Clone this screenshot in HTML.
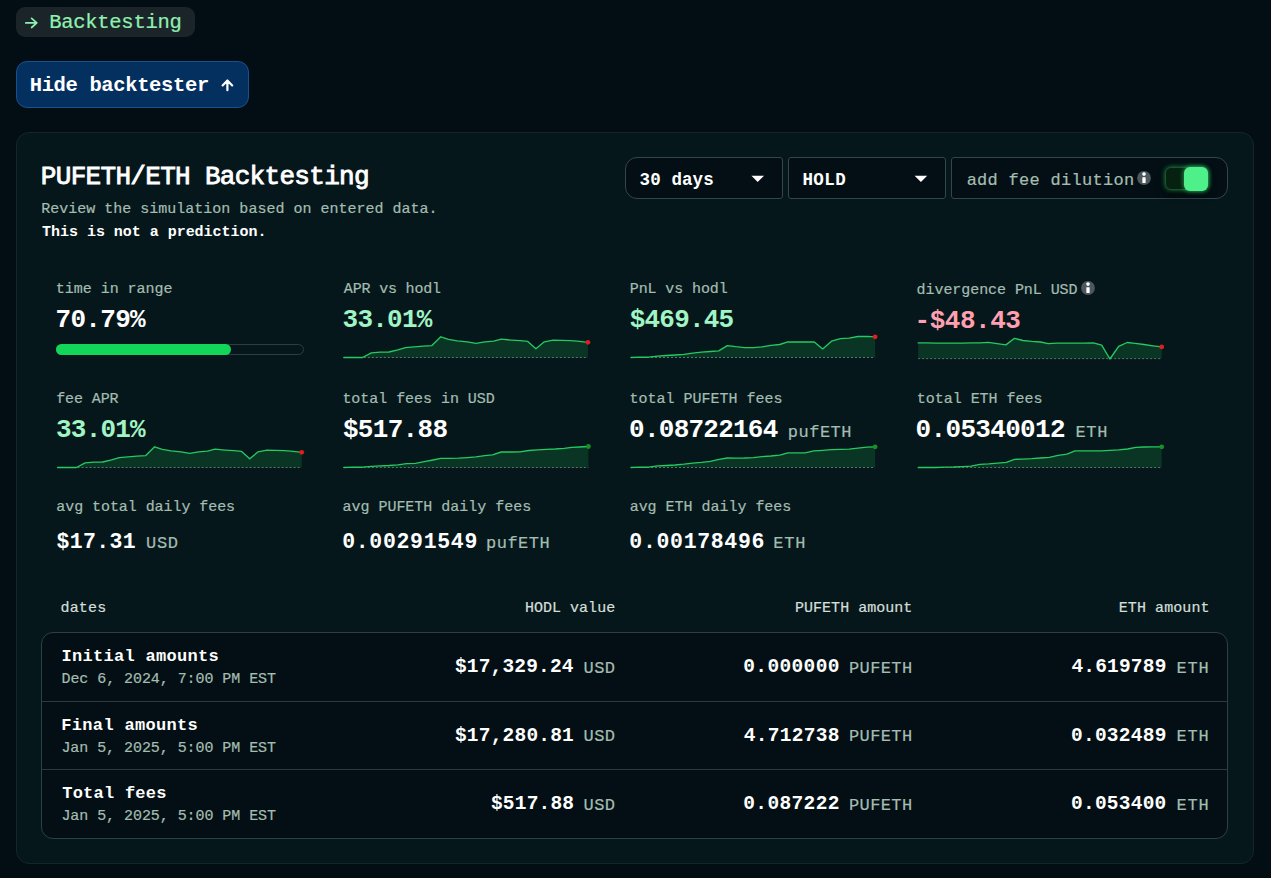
<!DOCTYPE html>
<html lang="en"><head><meta charset="utf-8"><title>Backtesting</title>
<style>
html,body{margin:0;padding:0;}
body{width:1271px;height:878px;overflow:hidden;background:#020e13;font-family:"Liberation Mono",monospace;position:relative;}
.t{position:absolute;white-space:pre;line-height:1;font-weight:400;-webkit-text-stroke:.2px currentColor;}
.abs{position:absolute;display:block;}
.t.semi{-webkit-text-stroke:.85px currentColor;}
.tag{position:absolute;left:16px;top:7px;width:179px;height:30px;border-radius:9px;background:#1b2529;}
.btn{position:absolute;left:16px;top:61px;width:231px;height:45px;border-radius:11px;background:#04305f;border:1px solid #1c4f90;}
.panel{position:absolute;left:16px;top:132px;width:1236px;height:730px;border-radius:13px;background:#06171c;border:1px solid #14262c;}
.dd{position:absolute;top:157px;height:40px;background:#030f14;border:1px solid #34454b;}
.dd1{left:625px;width:156px;border-radius:12px 3px 3px 12px;}
.dd2{left:788px;width:156px;border-radius:3px;}
.dd3{left:951px;width:275px;border-radius:3px 12px 12px 3px;}
.trk{position:absolute;left:1165px;top:167px;width:41px;height:21px;border-radius:6px;background:#06210f;border:1px solid #1d5133;box-shadow:0 0 5px rgba(40,220,100,.6),0 5px 8px rgba(0,0,0,.6);}
.thumb{position:absolute;left:1183.8px;top:166.7px;width:24.5px;height:24.2px;border-radius:6px;background:#4ef08a;box-shadow:0 0 5px rgba(74,240,130,.7);}
.pbar{position:absolute;left:56px;top:344.2px;width:245.5px;height:8.8px;border:1px solid #2c3d43;border-radius:6px;}
.pfill{position:absolute;left:-1px;top:-1px;height:10.8px;width:175.3px;border-radius:6px;background:#11d659;}
.tbl{position:absolute;left:41px;top:632px;width:1185px;height:205px;border:1px solid #2e3f45;border-radius:12px;background:#030f14;}
.hr{position:absolute;left:0;right:0;height:1px;background:#2a3a40;}
</style></head>
<body>
<div class="tag"></div>
<svg class="abs" style="left:24px;top:16px" width="16" height="14" viewBox="0 0 16 14"><path d="M1.8 6.9 H12.6 M7.6 2.3 L12.8 6.9 L7.6 11.5" fill="none" stroke="#8ff0b0" stroke-width="1.7" stroke-linecap="round" stroke-linejoin="round"/></svg>
<div class="t " style="left:49.28px;top:13.29px;font-size:20.5px;letter-spacing:-0.285px;color:#8ff0b0;">Backtesting</div>
<div class="btn"></div>
<div class="t " style="left:29.72px;top:75.89px;font-size:20.5px;letter-spacing:-0.362px;color:#ffffff;font-weight:700;-webkit-text-stroke:0;">Hide backtester</div>
<svg class="abs" style="left:220px;top:77px" width="16" height="16" viewBox="0 0 16 16"><path d="M7.4 13.2 V3.6 M2.6 8.4 L7.4 3.5 L12.2 8.4" fill="none" stroke="#fff" stroke-width="2.2" stroke-linecap="round" stroke-linejoin="round"/></svg>
<div class="panel"></div>
<div class="t semi" style="left:40.84px;top:164.08px;font-size:26px;letter-spacing:-0.689px;color:#ffffff;">PUFETH/ETH Backtesting</div>
<div class="t " style="left:41.31px;top:201.91px;font-size:15px;letter-spacing:0.002px;color:#a3bdb1;">Review the simulation based on entered data.</div>
<div class="t " style="left:42.05px;top:224.51px;font-size:15px;letter-spacing:-0.027px;color:#ffffff;font-weight:700;-webkit-text-stroke:0;">This is not a prediction.</div>
<div class="dd dd1"></div><div class="dd dd2"></div><div class="dd dd3"></div>
<div class="t " style="left:639.61px;top:171.89px;font-size:17.5px;letter-spacing:0.092px;color:#ffffff;font-weight:700;-webkit-text-stroke:0;">30 days</div>
<div class="t " style="left:802.42px;top:171.89px;font-size:17.5px;letter-spacing:0.419px;color:#ffffff;font-weight:700;-webkit-text-stroke:0;">HOLD</div>
<svg class="abs" style="left:751px;top:175px" width="14" height="8" viewBox="0 0 14 8"><path d="M0.4 0.8 H13 L6.7 7 Z" fill="#fff"/></svg>
<svg class="abs" style="left:914px;top:175px" width="14" height="8" viewBox="0 0 14 8"><path d="M0.6 0.8 H13.2 L6.9 7 Z" fill="#fff"/></svg>
<div class="t " style="left:966.64px;top:171.78px;font-size:17px;letter-spacing:0.282px;color:#a3bdb1;">add fee dilution</div>
<svg class="abs" style="left:1136.2px;top:169.6px" width="16" height="16" viewBox="0 0 16 16"><circle cx="8" cy="8" r="6.9" fill="#4d585e"/><circle cx="8" cy="4.1" r="1.8" fill="#fff"/><rect x="6.35" y="7.2" width="3.3" height="5.9" rx=".6" fill="#fff"/></svg>
<div class="trk"></div><div class="thumb"></div>
<div class="t " style="left:55.81px;top:281.61px;font-size:15px;letter-spacing:-0.028px;color:#a3bdb1;">time in range</div>
<div class="t " style="left:343.80px;top:281.61px;font-size:15px;letter-spacing:-0.169px;color:#a3bdb1;">APR vs hodl</div>
<div class="t " style="left:629.81px;top:281.61px;font-size:15px;letter-spacing:-0.110px;color:#a3bdb1;">PnL vs hodl</div>
<div class="t " style="left:916.59px;top:282.71px;font-size:15px;letter-spacing:-0.062px;color:#a3bdb1;">divergence PnL USD</div>
<svg class="abs" style="left:1080.2px;top:279.5px" width="16" height="16" viewBox="0 0 16 16"><circle cx="8" cy="8" r="6.9" fill="#4d585e"/><circle cx="8" cy="4.1" r="1.8" fill="#fff"/><rect x="6.35" y="7.2" width="3.3" height="5.9" rx=".6" fill="#fff"/></svg>
<div class="t " style="left:55.54px;top:307.38px;font-size:26px;letter-spacing:-0.693px;color:#ffffff;font-weight:700;-webkit-text-stroke:0;">70.79%</div>
<div class="t " style="left:342.62px;top:307.38px;font-size:26px;letter-spacing:-0.769px;color:#a1f4c3;font-weight:700;-webkit-text-stroke:0;">33.01%</div>
<div class="t " style="left:629.72px;top:307.38px;font-size:26px;letter-spacing:-0.799px;color:#a1f4c3;font-weight:700;-webkit-text-stroke:0;">$469.45</div>
<div class="t " style="left:914.59px;top:308.48px;font-size:26px;letter-spacing:-0.481px;color:#fea0b0;font-weight:700;-webkit-text-stroke:0;">-$48.43</div>
<div class="pbar"><div class="pfill"></div></div>
<div class="t " style="left:56.19px;top:391.61px;font-size:15px;letter-spacing:-0.103px;color:#a3bdb1;">fee APR</div>
<div class="t " style="left:342.41px;top:391.61px;font-size:15px;letter-spacing:-0.042px;color:#a3bdb1;">total fees in USD</div>
<div class="t " style="left:629.61px;top:391.61px;font-size:15px;letter-spacing:-0.006px;color:#a3bdb1;">total PUFETH fees</div>
<div class="t " style="left:916.81px;top:391.61px;font-size:15px;letter-spacing:-0.030px;color:#a3bdb1;">total ETH fees</div>
<div class="t " style="left:56.02px;top:417.38px;font-size:26px;letter-spacing:-0.789px;color:#a1f4c3;font-weight:700;-webkit-text-stroke:0;">33.01%</div>
<div class="t " style="left:342.92px;top:417.38px;font-size:26px;letter-spacing:-0.676px;color:#ffffff;font-weight:700;-webkit-text-stroke:0;">$517.88</div>
<div class="t " style="left:629.11px;top:417.38px;font-size:26px;letter-spacing:-0.763px;color:#ffffff;font-weight:700;-webkit-text-stroke:0;">0.08722164</div>
<div class="t " style="left:787.71px;top:423.78px;font-size:17px;letter-spacing:0.526px;color:#a3bdb1;">pufETH</div>
<div class="t " style="left:915.61px;top:417.38px;font-size:26px;letter-spacing:-0.680px;color:#ffffff;font-weight:700;-webkit-text-stroke:0;">0.05340012</div>
<div class="t " style="left:1075.46px;top:423.78px;font-size:17px;letter-spacing:0.646px;color:#a3bdb1;">ETH</div>
<div class="t " style="left:56.26px;top:499.51px;font-size:15px;letter-spacing:-0.061px;color:#a3bdb1;">avg total daily fees</div>
<div class="t " style="left:342.46px;top:499.51px;font-size:15px;letter-spacing:-0.013px;color:#a3bdb1;">avg PUFETH daily fees</div>
<div class="t " style="left:629.66px;top:499.51px;font-size:15px;letter-spacing:-0.021px;color:#a3bdb1;">avg ETH daily fees</div>
<div class="t " style="left:56.48px;top:531.93px;font-size:21.5px;letter-spacing:0.345px;color:#ffffff;font-weight:700;-webkit-text-stroke:0;">$17.31</div>
<div class="t " style="left:146.12px;top:535.38px;font-size:17px;letter-spacing:0.569px;color:#a3bdb1;">USD</div>
<div class="t " style="left:342.17px;top:531.93px;font-size:21.5px;letter-spacing:0.678px;color:#ffffff;font-weight:700;-webkit-text-stroke:0;">0.00291549</div>
<div class="t " style="left:486.01px;top:535.38px;font-size:17px;letter-spacing:0.486px;color:#a3bdb1;">pufETH</div>
<div class="t " style="left:629.37px;top:531.93px;font-size:21.5px;letter-spacing:0.667px;color:#ffffff;font-weight:700;-webkit-text-stroke:0;">0.00178496</div>
<div class="t " style="left:773.36px;top:535.38px;font-size:17px;letter-spacing:0.696px;color:#a3bdb1;">ETH</div>
<svg class="abs" style="left:0;top:0" width="1271" height="878" viewBox="0 0 1271 878"><polygon points="343.8,357.5 343.8,357.5 362.5,357.5 371.4,352.8 380.2,352.2 389.0,352.0 397.8,349.8 405.5,347.6 414.3,346.9 423.1,346.2 431.9,345.6 440.8,336.8 448.5,339.4 457.3,340.9 467.2,341.8 476.0,343.4 484.8,341.8 493.6,341.2 501.3,339.2 511.3,340.1 520.1,340.7 527.8,341.4 535.9,348.7 544.3,341.8 553.1,340.1 561.9,340.3 570.7,340.7 579.5,341.4 587.9,342.3 587.9,357.5" fill="#0a3525"/><line x1="343.8" y1="357.5" x2="587.9" y2="357.5" stroke="#56786a" stroke-width="1" stroke-dasharray="2 2"/><polyline points="343.8,357.5 362.5,357.5 371.4,352.8 380.2,352.2 389.0,352.0 397.8,349.8 405.5,347.6 414.3,346.9 423.1,346.2 431.9,345.6 440.8,336.8 448.5,339.4 457.3,340.9 467.2,341.8 476.0,343.4 484.8,341.8 493.6,341.2 501.3,339.2 511.3,340.1 520.1,340.7 527.8,341.4 535.9,348.7 544.3,341.8 553.1,340.1 561.9,340.3 570.7,340.7 579.5,341.4 587.9,342.3" fill="none" stroke="#24c960" stroke-width="1.35" stroke-linejoin="round" stroke-linecap="round"/><circle cx="587.9" cy="342.3" r="2.4" fill="#e11d1d"/></svg>
<svg class="abs" style="left:0;top:0" width="1271" height="878" viewBox="0 0 1271 878"><polygon points="631.0,357.5 631.0,357.5 639.8,357.2 648.6,357.2 657.5,356.1 666.3,355.5 675.1,355.0 683.9,354.4 692.7,353.1 701.5,352.2 710.3,351.5 718.7,350.9 727.3,345.6 735.7,346.7 744.5,347.6 753.3,347.6 762.1,346.9 770.9,345.3 779.7,344.5 787.9,341.8 796.3,342.0 805.1,341.8 814.3,342.0 822.7,348.9 831.5,341.2 840.3,338.7 849.1,338.1 857.9,336.5 866.8,336.3 875.1,336.8 875.1,357.5" fill="#0a3525"/><line x1="631.0" y1="357.5" x2="875.1" y2="357.5" stroke="#56786a" stroke-width="1" stroke-dasharray="2 2"/><polyline points="631.0,357.5 639.8,357.2 648.6,357.2 657.5,356.1 666.3,355.5 675.1,355.0 683.9,354.4 692.7,353.1 701.5,352.2 710.3,351.5 718.7,350.9 727.3,345.6 735.7,346.7 744.5,347.6 753.3,347.6 762.1,346.9 770.9,345.3 779.7,344.5 787.9,341.8 796.3,342.0 805.1,341.8 814.3,342.0 822.7,348.9 831.5,341.2 840.3,338.7 849.1,338.1 857.9,336.5 866.8,336.3 875.1,336.8" fill="none" stroke="#24c960" stroke-width="1.35" stroke-linejoin="round" stroke-linecap="round"/><circle cx="875.1" cy="336.8" r="2.4" fill="#e11d1d"/></svg>
<svg class="abs" style="left:0;top:0" width="1271" height="878" viewBox="0 0 1271 878"><polygon points="918.2,358.6 918.2,342.9 927.0,342.9 935.8,343.1 944.7,343.1 953.5,343.1 962.3,343.1 971.1,342.9 979.9,342.9 988.3,342.3 997.1,343.6 1005.9,344.9 1014.5,338.3 1022.9,340.5 1031.7,341.4 1040.5,342.0 1048.2,343.6 1057.0,343.1 1065.8,343.1 1074.6,343.1 1083.5,343.1 1093.4,342.9 1101.7,345.1 1109.9,359.0 1118.7,346.4 1127.1,342.5 1135.2,343.4 1144.0,344.5 1152.9,345.8 1161.7,346.9 1161.7,358.6" fill="#0a3525"/><line x1="918.2" y1="358.6" x2="1161.7" y2="358.6" stroke="#56786a" stroke-width="1" stroke-dasharray="2 2"/><polyline points="918.2,342.9 927.0,342.9 935.8,343.1 944.7,343.1 953.5,343.1 962.3,343.1 971.1,342.9 979.9,342.9 988.3,342.3 997.1,343.6 1005.9,344.9 1014.5,338.3 1022.9,340.5 1031.7,341.4 1040.5,342.0 1048.2,343.6 1057.0,343.1 1065.8,343.1 1074.6,343.1 1083.5,343.1 1093.4,342.9 1101.7,345.1 1109.9,359.0 1118.7,346.4 1127.1,342.5 1135.2,343.4 1144.0,344.5 1152.9,345.8 1161.7,346.9" fill="none" stroke="#24c960" stroke-width="1.35" stroke-linejoin="round" stroke-linecap="round"/><circle cx="1161.7" cy="346.9" r="2.4" fill="#e11d1d"/></svg>
<svg class="abs" style="left:0;top:0" width="1271" height="878" viewBox="0 0 1271 878"><polygon points="57.6,467.5 57.6,467.5 76.4,467.5 85.2,462.8 94.0,462.2 102.8,462.0 111.6,459.8 119.3,457.6 128.1,456.9 136.9,456.2 145.8,455.6 154.6,446.8 162.3,449.4 171.1,450.9 181.0,451.8 189.8,453.4 198.6,451.8 207.4,451.2 215.1,449.2 225.1,450.1 233.9,450.7 241.6,451.4 249.7,458.7 258.1,451.8 266.9,450.1 275.7,450.3 284.5,450.7 293.4,451.4 301.7,452.3 301.7,467.5" fill="#0a3525"/><line x1="57.6" y1="467.5" x2="301.7" y2="467.5" stroke="#56786a" stroke-width="1" stroke-dasharray="2 2"/><polyline points="57.6,467.5 76.4,467.5 85.2,462.8 94.0,462.2 102.8,462.0 111.6,459.8 119.3,457.6 128.1,456.9 136.9,456.2 145.8,455.6 154.6,446.8 162.3,449.4 171.1,450.9 181.0,451.8 189.8,453.4 198.6,451.8 207.4,451.2 215.1,449.2 225.1,450.1 233.9,450.7 241.6,451.4 249.7,458.7 258.1,451.8 266.9,450.1 275.7,450.3 284.5,450.7 293.4,451.4 301.7,452.3" fill="none" stroke="#24c960" stroke-width="1.35" stroke-linejoin="round" stroke-linecap="round"/><circle cx="301.7" cy="452.3" r="2.4" fill="#e11d1d"/></svg>
<svg class="abs" style="left:0;top:0" width="1271" height="878" viewBox="0 0 1271 878"><polygon points="343.8,467.5 343.8,467.5 353.7,467.2 362.5,467.2 371.4,466.4 380.2,465.9 389.0,465.5 397.8,464.8 406.6,463.7 415.4,463.3 424.2,461.7 433.0,460.0 440.8,458.4 449.6,458.4 458.4,458.2 467.2,457.6 476.0,456.9 484.8,455.6 492.5,454.9 501.3,452.0 511.3,452.0 520.1,451.8 528.9,450.5 537.7,449.8 546.5,449.4 555.3,449.0 564.1,448.3 571.8,447.4 579.5,447.0 588.4,446.5 588.4,467.5" fill="#0a3525"/><line x1="343.8" y1="467.5" x2="588.4" y2="467.5" stroke="#56786a" stroke-width="1" stroke-dasharray="2 2"/><polyline points="343.8,467.5 353.7,467.2 362.5,467.2 371.4,466.4 380.2,465.9 389.0,465.5 397.8,464.8 406.6,463.7 415.4,463.3 424.2,461.7 433.0,460.0 440.8,458.4 449.6,458.4 458.4,458.2 467.2,457.6 476.0,456.9 484.8,455.6 492.5,454.9 501.3,452.0 511.3,452.0 520.1,451.8 528.9,450.5 537.7,449.8 546.5,449.4 555.3,449.0 564.1,448.3 571.8,447.4 579.5,447.0 588.4,446.5" fill="none" stroke="#24c960" stroke-width="1.35" stroke-linejoin="round" stroke-linecap="round"/><circle cx="588.4" cy="446.5" r="2.4" fill="#169224"/></svg>
<svg class="abs" style="left:0;top:0" width="1271" height="878" viewBox="0 0 1271 878"><polygon points="631.0,467.5 631.0,467.5 639.8,467.2 648.6,467.2 657.5,465.9 666.3,465.5 675.1,465.0 683.9,464.2 692.7,463.1 701.5,462.4 710.3,461.3 719.1,459.3 727.3,458.0 735.7,458.2 744.5,458.0 753.3,457.6 762.1,456.7 770.9,456.0 779.7,455.1 787.9,452.9 796.3,452.9 805.1,452.9 813.9,450.9 822.7,450.3 831.5,449.6 840.3,449.4 849.1,449.2 857.9,448.1 866.8,447.2 875.1,446.8 875.1,467.5" fill="#0a3525"/><line x1="631.0" y1="467.5" x2="875.1" y2="467.5" stroke="#56786a" stroke-width="1" stroke-dasharray="2 2"/><polyline points="631.0,467.5 639.8,467.2 648.6,467.2 657.5,465.9 666.3,465.5 675.1,465.0 683.9,464.2 692.7,463.1 701.5,462.4 710.3,461.3 719.1,459.3 727.3,458.0 735.7,458.2 744.5,458.0 753.3,457.6 762.1,456.7 770.9,456.0 779.7,455.1 787.9,452.9 796.3,452.9 805.1,452.9 813.9,450.9 822.7,450.3 831.5,449.6 840.3,449.4 849.1,449.2 857.9,448.1 866.8,447.2 875.1,446.8" fill="none" stroke="#24c960" stroke-width="1.35" stroke-linejoin="round" stroke-linecap="round"/><circle cx="875.1" cy="446.8" r="2.4" fill="#169224"/></svg>
<svg class="abs" style="left:0;top:0" width="1271" height="878" viewBox="0 0 1271 878"><polygon points="918.2,467.5 918.2,467.5 927.0,467.5 935.8,467.5 944.7,467.2 953.5,467.0 962.3,466.6 971.1,466.1 979.9,464.4 988.7,463.9 997.5,463.1 1006.3,462.4 1014.5,459.3 1022.9,459.1 1031.7,458.7 1040.5,458.0 1049.3,457.3 1058.1,455.3 1066.9,454.2 1075.1,450.9 1083.5,450.9 1092.3,450.9 1101.1,450.9 1109.9,450.3 1118.7,449.8 1127.5,449.0 1135.9,447.4 1144.0,447.0 1152.9,446.8 1161.7,446.8 1161.7,467.5" fill="#0a3525"/><line x1="918.2" y1="467.5" x2="1161.7" y2="467.5" stroke="#56786a" stroke-width="1" stroke-dasharray="2 2"/><polyline points="918.2,467.5 927.0,467.5 935.8,467.5 944.7,467.2 953.5,467.0 962.3,466.6 971.1,466.1 979.9,464.4 988.7,463.9 997.5,463.1 1006.3,462.4 1014.5,459.3 1022.9,459.1 1031.7,458.7 1040.5,458.0 1049.3,457.3 1058.1,455.3 1066.9,454.2 1075.1,450.9 1083.5,450.9 1092.3,450.9 1101.1,450.9 1109.9,450.3 1118.7,449.8 1127.5,449.0 1135.9,447.4 1144.0,447.0 1152.9,446.8 1161.7,446.8" fill="none" stroke="#24c960" stroke-width="1.35" stroke-linejoin="round" stroke-linecap="round"/><circle cx="1161.7" cy="446.8" r="2.4" fill="#169224"/></svg>
<div class="t " style="left:60.49px;top:600.71px;font-size:15px;letter-spacing:0.185px;color:#d3dfd9;">dates</div>
<div class="t " style="left:524.91px;top:600.71px;font-size:15px;letter-spacing:0.029px;color:#d3dfd9;">HODL value</div>
<div class="t " style="left:795.01px;top:600.71px;font-size:15px;letter-spacing:0.027px;color:#d3dfd9;">PUFETH amount</div>
<div class="t " style="left:1118.71px;top:600.71px;font-size:15px;letter-spacing:0.092px;color:#d3dfd9;">ETH amount</div>
<div class="tbl"><div class="hr" style="top:68px"></div><div class="hr" style="top:136px"></div></div>
<div class="t " style="left:61.40px;top:648.18px;font-size:17px;letter-spacing:0.301px;color:#ffffff;font-weight:700;-webkit-text-stroke:0;">Initial amounts</div>
<div class="t " style="left:61.51px;top:672.41px;font-size:15px;letter-spacing:-0.065px;color:#a3bdb1;">Dec 6, 2024, 7:00 PM EST</div>
<div class="t " style="left:454.94px;top:658.16px;font-size:19.5px;letter-spacing:0.180px;color:#ffffff;font-weight:700;-webkit-text-stroke:0;">$17,329.24</div>
<div class="t " style="left:583.62px;top:660.08px;font-size:17px;letter-spacing:0.419px;color:#a3bdb1;">USD</div>
<div class="t " style="left:743.29px;top:658.16px;font-size:19.5px;letter-spacing:0.360px;color:#ffffff;font-weight:700;-webkit-text-stroke:0;">0.000000</div>
<div class="t " style="left:848.96px;top:660.08px;font-size:17px;letter-spacing:0.398px;color:#a3bdb1;">PUFETH</div>
<div class="t " style="left:1071.42px;top:658.16px;font-size:19.5px;letter-spacing:0.190px;color:#ffffff;font-weight:700;-webkit-text-stroke:0;">4.619789</div>
<div class="t " style="left:1176.46px;top:660.08px;font-size:17px;letter-spacing:0.796px;color:#a3bdb1;">ETH</div>
<div class="t " style="left:61.31px;top:717.18px;font-size:17px;letter-spacing:0.320px;color:#ffffff;font-weight:700;-webkit-text-stroke:0;">Final amounts</div>
<div class="t " style="left:61.41px;top:740.91px;font-size:15px;letter-spacing:-0.060px;color:#a3bdb1;">Jan 5, 2025, 5:00 PM EST</div>
<div class="t " style="left:454.94px;top:726.56px;font-size:19.5px;letter-spacing:0.207px;color:#ffffff;font-weight:700;-webkit-text-stroke:0;">$17,280.81</div>
<div class="t " style="left:583.62px;top:728.48px;font-size:17px;letter-spacing:0.419px;color:#a3bdb1;">USD</div>
<div class="t " style="left:743.72px;top:726.56px;font-size:19.5px;letter-spacing:0.286px;color:#ffffff;font-weight:700;-webkit-text-stroke:0;">4.712738</div>
<div class="t " style="left:848.96px;top:728.48px;font-size:17px;letter-spacing:0.398px;color:#a3bdb1;">PUFETH</div>
<div class="t " style="left:1070.99px;top:726.56px;font-size:19.5px;letter-spacing:0.253px;color:#ffffff;font-weight:700;-webkit-text-stroke:0;">0.032489</div>
<div class="t " style="left:1176.46px;top:728.48px;font-size:17px;letter-spacing:0.796px;color:#a3bdb1;">ETH</div>
<div class="t " style="left:62.19px;top:785.18px;font-size:17px;letter-spacing:0.252px;color:#ffffff;font-weight:700;-webkit-text-stroke:0;">Total fees</div>
<div class="t " style="left:61.41px;top:809.31px;font-size:15px;letter-spacing:-0.060px;color:#a3bdb1;">Jan 5, 2025, 5:00 PM EST</div>
<div class="t " style="left:490.94px;top:795.06px;font-size:19.5px;letter-spacing:0.197px;color:#ffffff;font-weight:700;-webkit-text-stroke:0;">$517.88</div>
<div class="t " style="left:583.62px;top:796.98px;font-size:17px;letter-spacing:0.419px;color:#a3bdb1;">USD</div>
<div class="t " style="left:743.29px;top:795.06px;font-size:19.5px;letter-spacing:0.363px;color:#ffffff;font-weight:700;-webkit-text-stroke:0;">0.087222</div>
<div class="t " style="left:848.96px;top:796.98px;font-size:17px;letter-spacing:0.398px;color:#a3bdb1;">PUFETH</div>
<div class="t " style="left:1070.99px;top:795.06px;font-size:19.5px;letter-spacing:0.246px;color:#ffffff;font-weight:700;-webkit-text-stroke:0;">0.053400</div>
<div class="t " style="left:1176.46px;top:796.98px;font-size:17px;letter-spacing:0.796px;color:#a3bdb1;">ETH</div>
</body></html>
